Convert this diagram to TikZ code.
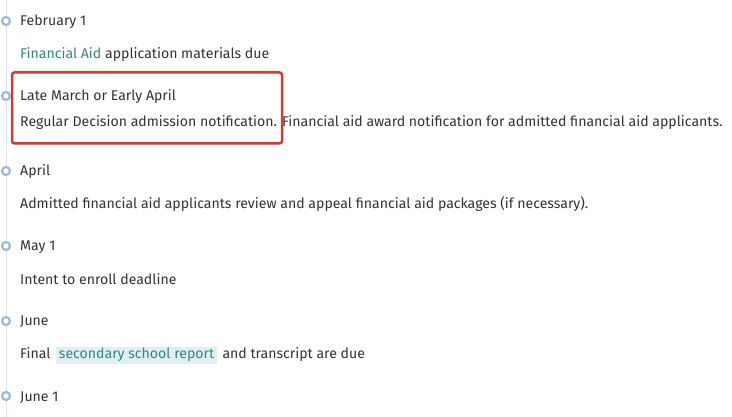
\documentclass[tikz,border=0pt]{standalone}
\usepackage{fontspec}
\setmainfont{Fira Sans}
\definecolor{txt}{HTML}{333333}
\definecolor{teal}{HTML}{2F8B78}
\definecolor{ring}{HTML}{9DBAD3}
\definecolor{vline}{HTML}{E3E6EA}
\definecolor{hl}{HTML}{E2EEF3}
\definecolor{redbox}{HTML}{D23A33}
\tikzset{
  lbl/.style={anchor=base west, inner sep=0pt, text=txt, font=\fontsize{14.1}{16}\selectfont},
  dot/.style={circle, draw=ring, line width=2.2pt, fill=white, minimum size=8pt, inner sep=0pt},
  hlbox/.style={lbl, fill=hl, text=teal, inner xsep=3pt, inner ysep=0pt, text depth=4.5pt, text height=12pt},
}
\begin{document}
\begin{tikzpicture}[x=1pt,y=-1pt]
\useasboundingbox (0,0) rectangle (732,417);
\fill[white] (0,0) rectangle (732,417);
\coordinate (top) at (6,0);
\coordinate (bot) at (6,417);
\draw[vline, line width=1pt] (top) -- (bot);
% red box
\draw[redbox, line width=2.5pt, rounded corners=2.5pt] (12,72.5) rectangle (282,143.5);
\foreach \y [count=\i] in {21,96,171,246,321,396} {
  \node[dot] (d\i) at (6,\y) {};
}
\node[lbl] (t1) at (20,26) {February 1};
\node[lbl] (s1) at (20,59) {\textcolor{teal}{Financial Aid} application materials due};
\node[lbl] (t2) at (20,101) {Late March or Early April};
\node[lbl] (s2) at (20,127) {Regular Decision admission notification. Financial aid award notification for admitted financial aid applicants.};
\node[lbl] (t3) at (20,176) {April};
\node[lbl] (s3) at (20,209) {Admitted financial aid applicants review and appeal financial aid packages (if necessary).};
\node[lbl] (t4) at (20,251) {May 1};
\node[lbl] (s4) at (20,284) {Intent to enroll deadline};
\node[lbl] (t5) at (20,326) {June};
\node[lbl] (s5a) at (20,359) {Final};
\node[hlbox] (s5b) at ([xshift=5pt]s5a.base east) {secondary school report};
\node[lbl] (s5c) at ([xshift=5pt]s5b.base east) {and transcript are due};
\node[lbl] (t6) at (20,401) {June 1};
\end{tikzpicture}
\end{document}
